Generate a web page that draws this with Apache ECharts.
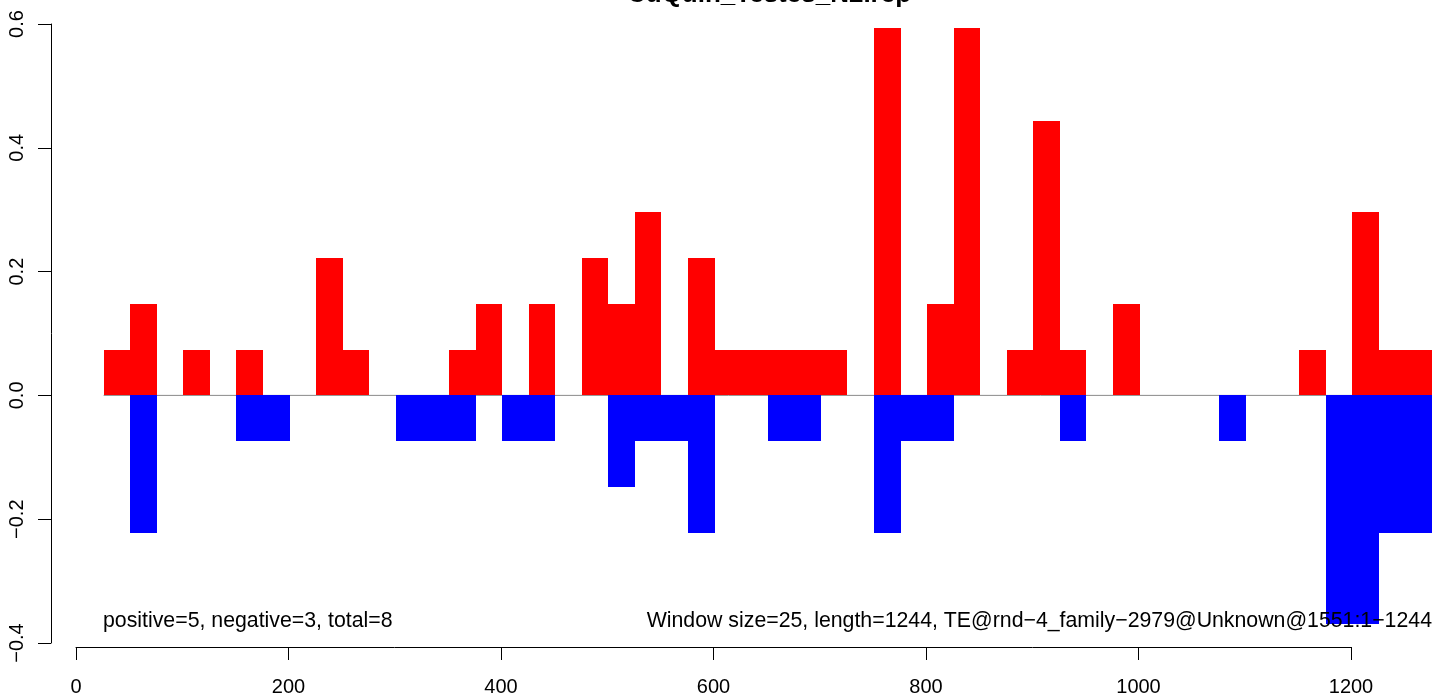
<!DOCTYPE html>
<html><head><meta charset="utf-8">
<script src="https://cdn.jsdelivr.net/npm/echarts@6/dist/echarts.min.js"></script>
<style>html,body{margin:0;padding:0;background:#fff}#c{width:1444px;height:697px}</style>
</head><body><div id="c"></div>
<script>
const windowSize = 25;
const windowStarts = [26,51,76,101,126,151,176,201,226,251,276,301,326,351,376,401,426,451,476,501,526,551,576,601,626,651,676,701,726,751,776,801,826,851,876,901,926,951,976,1001,1026,1051,1076,1101,1126,1151,1176,1201,1226,1251];
const positiveValues = [0.074,0.148,0,0.074,0,0.074,0,0,0.222,0.074, 0,0,0,0.074,0.148,0,0.148,0,0.222,0.148, 0.296,0,0.222,0.074,0.074,0.074,0.074,0.074,0,0.593, 0,0.148,0.593,0,0.074,0.444,0.074,0,0.148,0, 0,0,0,0,0,0.074,0,0.296,0.074,0.074];
const negativeValues = [0,-0.222,0,0,0,-0.074,-0.074,0,0,0, 0,-0.074,-0.074,-0.074,0,-0.074,-0.074,0,0,-0.148, -0.074,-0.074,-0.222,0,0,-0.074,-0.074,0,0,-0.222, -0.074,-0.074,0,0,0,0,-0.074,0,0,0, 0,0,-0.074,0,0,0,-0.370,-0.370,-0.222,-0.222];
const titleText = 'CuQuin_Testes_N2.rep';
const leftNote = 'positive=5, negative=3, total=8';
const rightNote = 'Window size=25, length=1244, TE@rnd\u22124_family\u22122979@Unknown@1551:1\u22121244';

const FONT = '"Liberation Sans", Arial, Helvetica, sans-serif';
const chart = echarts.init(document.getElementById('c'), null, {renderer: 'canvas'});

function barRenderer(color) {
  return function (params, api) {
    const x0 = api.value(0), x1 = api.value(1), v = api.value(2);
    if (!v) return null;
    const p0 = api.coord([x0, 0]);
    const p1 = api.coord([x1, v]);
    const left = Math.round(p0[0]), right = Math.round(p1[0]);
    const top = Math.round(Math.min(p0[1], p1[1])), bottom = Math.round(Math.max(p0[1], p1[1]));
    return {
      type: 'rect',
      shape: {x: left, y: top, width: right - left, height: bottom - top},
      style: {fill: color}
    };
  };
}

const posData = windowStarts.map((s, i) => [s, s + windowSize, positiveValues[i]]);
const negData = windowStarts.map((s, i) => [s, s + windowSize, negativeValues[i]]);
const lastEnd = windowStarts[windowStarts.length - 1] + windowSize;

chart.setOption({
  animation: false,
  backgroundColor: '#ffffff',
  grid: {left: 76, top: 24, width: 1275, height: 622, containLabel: false},
  xAxis: {
    type: 'value', min: 0, max: 1200, interval: 200, offset: 4,
    axisLine: {show: true, onZero: false, lineStyle: {color: '#000', width: 1}},
    axisTick: {show: true, length: 13, lineStyle: {color: '#000', width: 1}},
    axisLabel: {show: true, margin: 30, fontSize: 20, color: '#000', fontFamily: FONT, formatter: v => String(v)},
    splitLine: {show: false}
  },
  yAxis: {
    type: 'value', min: -0.4, max: 0.6, interval: 0.2, offset: 25,
    axisLine: {show: true, onZero: false, lineStyle: {color: '#000', width: 1}},
    axisTick: {show: true, length: 13, lineStyle: {color: '#000', width: 1}},
    axisLabel: {
      show: true, rotate: 90, margin: 24, fontSize: 20, color: '#000', fontFamily: FONT,
      formatter: v => v.toFixed(1).replace('-', '\u2212')
    },
    splitLine: {show: false}
  },
  series: [
    {
      type: 'line', data: [[windowStarts[0], 0], [lastEnd, 0]], symbol: 'none', silent: true,
      lineStyle: {color: '#8a8a8a', width: 1}, z: 1
    },
    {type: 'custom', renderItem: barRenderer('#ff0000'), data: posData, clip: false, z: 2, silent: true},
    {type: 'custom', renderItem: barRenderer('#0000ff'), data: negData, clip: false, z: 2, silent: true}
  ],
  graphic: [
    {type: 'text', x: 769, y: -5, z: 100, style: {text: titleText, fill: '#000', font: 'bold 26px ' + FONT, align: 'center', verticalAlign: 'middle', textAlign: 'center', textVerticalAlign: 'middle'}},
    {type: 'text', x: 103, y: 621, z: 100, style: {text: leftNote, fill: '#000', font: '21.3px ' + FONT, align: 'left', verticalAlign: 'middle', textAlign: 'left', textVerticalAlign: 'middle'}},
    {type: 'text', x: 1432, y: 621, z: 100, style: {text: rightNote, fill: '#000', font: '21.3px ' + FONT, align: 'right', verticalAlign: 'middle', textAlign: 'right', textVerticalAlign: 'middle'}}
  ]
});
</script>
</body></html>
